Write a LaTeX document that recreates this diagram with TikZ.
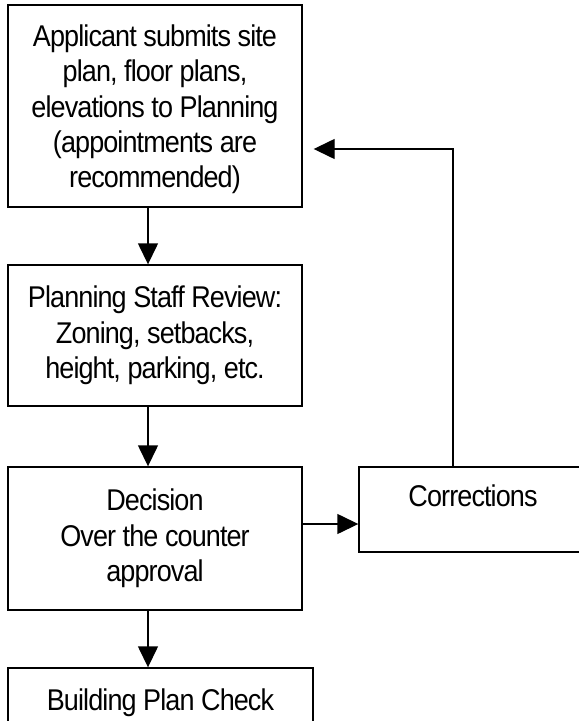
\documentclass[tikz,border=0pt]{standalone}
\usepackage{fontspec}
\setmainfont[FakeStretch=0.9, LetterSpace=-3]{Liberation Sans}
\usetikzlibrary{arrows.meta}
\tikzset{
  stage/.style={draw, line width=1.4bp, align=center, inner sep=0pt,
    font=\fontsize{30bp}{35.3bp}\selectfont},
  flow/.style={line width=1.4bp, -{Triangle[length=21bp, width=20bp]}}
}
\begin{document}
\begin{tikzpicture}[x=1bp, y=-1bp]
    \useasboundingbox (0,0) rectangle (579,721);
    \clip (0,0) rectangle (579,721);

    % left column
    \node[stage, minimum width=294bp, minimum height=202bp, text height=170bp] (submit) at (155,106)
      {Applicant submits site\\plan, floor plans,\\elevations to Planning\\(appointments are\\recommended)};
    \node[stage, minimum width=294bp, minimum height=141bp] (review) at (155,335.5)
      {Planning Staff Review:\\Zoning, setbacks,\\height, parking, etc.};
    \node[stage, minimum width=294bp, minimum height=143bp] (decision) at (155,538.5)
      {Decision\\Over the counter\\approval};
    \node[stage, minimum width=305bp, minimum height=100bp, text height=22bp, text depth=38bp] (plancheck) at (160.5,718)
      {Building Plan Check};

    % right side
    \node[stage, minimum width=228bp, minimum height=85bp, text height=22bp, text depth=28bp] (corrections) at (473,509.5)
      {Corrections};

    % arrows down
    \draw[flow] ([xshift=-7bp]submit.south) -- ([xshift=-7bp]review.north);
    \draw[flow] ([xshift=-7bp]review.south) -- ([xshift=-7bp]decision.north);
    \draw[flow] ([xshift=-7bp]decision.south) -- ([xshift=-7bp]decision.south |- plancheck.north);

    % corrections loop
    \draw[flow] ([yshift=14.5bp]decision.east) -- ([yshift=14.5bp]decision.east -| corrections.west);
    \draw[flow] ([xshift=-20bp]corrections.north) |- ([xshift=11bp, yshift=-43bp]submit.east);
  \end{tikzpicture}
\end{document}
